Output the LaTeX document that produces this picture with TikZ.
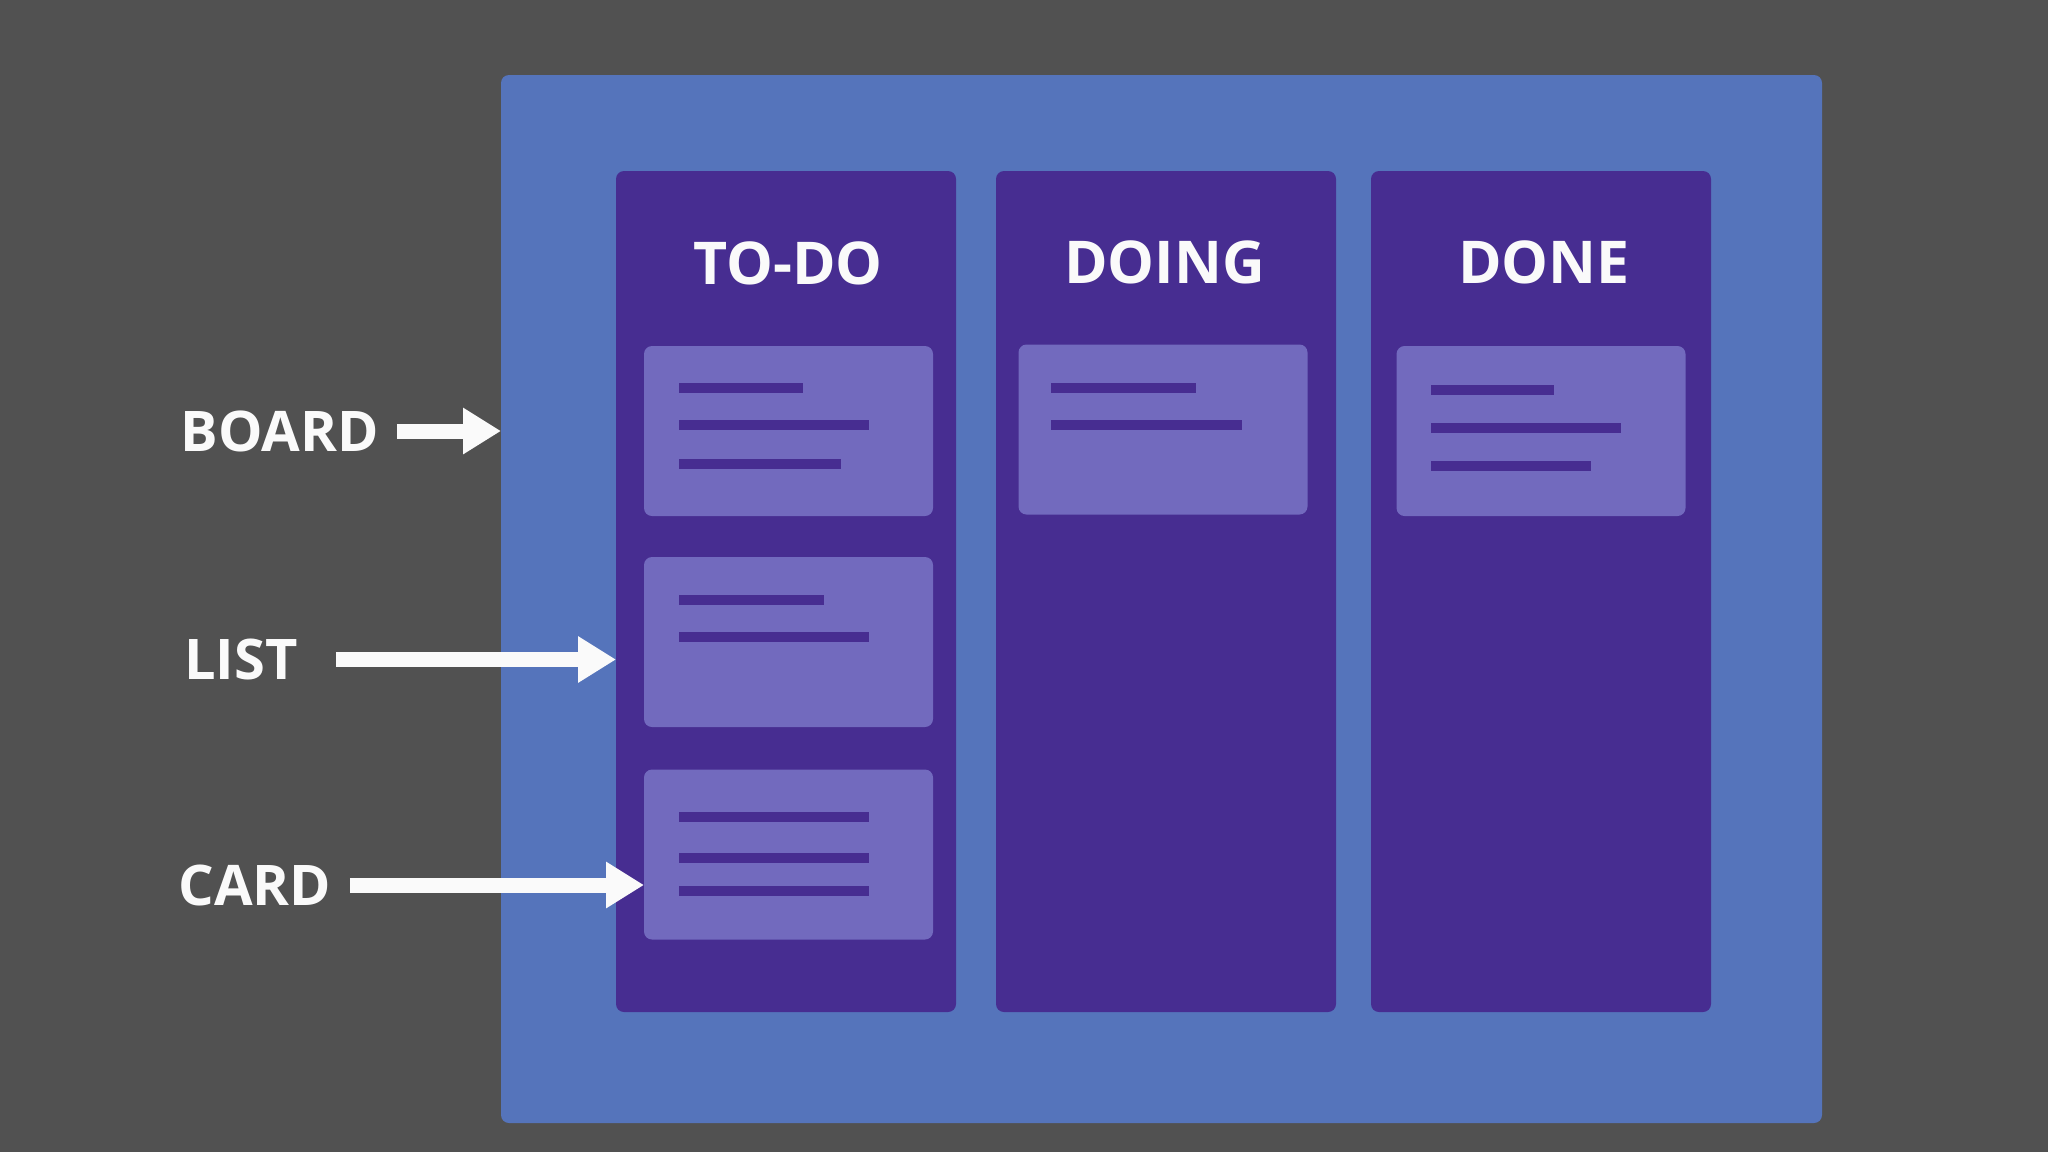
\documentclass[tikz,border=0pt]{standalone}
\usepackage{fontspec}
\setmainfont{Open Sans}
\usetikzlibrary{arrows.meta}
\definecolor{bgray}{RGB}{81,81,81}
\definecolor{boardblue}{RGB}{85,116,187}
\definecolor{listpurple}{RGB}{71,45,145}
\definecolor{cardpurple}{RGB}{114,106,190}
\definecolor{txtwhite}{RGB}{250,250,250}
\tikzset{
  boardbox/.style={fill=boardblue, rounded corners=4pt, inner sep=0pt, outer sep=0pt, minimum width=660.5pt, minimum height=524pt},
  listbox/.style={fill=listpurple, rounded corners=4pt, inner sep=0pt, outer sep=0pt, minimum width=170pt, minimum height=420.5pt},
  cardbox/.style={fill=cardpurple, rounded corners=4pt, inner sep=0pt, outer sep=0pt, minimum width=144.5pt, minimum height=85pt},
  cardline/.style={draw=listpurple, line width=5pt, line cap=butt},
  title/.style={text=txtwhite, inner sep=0pt, font=\fontsize{29.5}{32}\selectfont\bfseries},
  lbl/.style={text=txtwhite, inner sep=0pt, font=\fontsize{28}{30}\selectfont\bfseries},
  arr/.style={draw=txtwhite, line width=7.5pt, -{Triangle[length=19pt,width=22pt]}}
}
\begin{document}
\begin{tikzpicture}[x=0.5pt,y=-0.5pt]
\useasboundingbox[fill=bgray] (0,0) rectangle (2048,1152);
% board
\node[boardbox] (board) at (1161.5,599) {};
% lists
\node[listbox] (todo) at (786,591.5) {};
\node[listbox] (doing) at (1166,591.5) {};
\node[listbox] (done) at (1541,591.5) {};
% titles
\node[title] (ttodo) at (788,263.5) {TO-DO};
\node[title] (tdoing) at (1164.5,262) {DOING};
\node[title] (tdone) at (1544,262) {DONE};
% cards
\node[cardbox] (card1) at (788.5,431) {};
\node[cardbox] (card2) at (788.5,642) {};
\node[cardbox] (card3) at (788.5,854.5) {};
\node[cardbox] (card4) at (1163,429.5) {};
\node[cardbox] (card5) at (1541,431) {};
% card lines
\draw[cardline] (679,388) -- (803,388);
\draw[cardline] (679,425) -- (869,425);
\draw[cardline] (679,463.5) -- (841,463.5);
\draw[cardline] (679,600) -- (824,600);
\draw[cardline] (679,637) -- (869,637);
\draw[cardline] (679,817) -- (869,817);
\draw[cardline] (679,858) -- (869,858);
\draw[cardline] (679,891) -- (869,891);
\draw[cardline] (1051,388) -- (1196,388);
\draw[cardline] (1051,425) -- (1242,425);
\draw[cardline] (1431,390) -- (1554,390);
\draw[cardline] (1431,428) -- (1621,428);
\draw[cardline] (1431,466) -- (1591,466);
% labels
\node[lbl] (lboard) at (279.5,431) {BOARD};
\node[lbl] (llist) at (240.75,659.5) {LIST};
\node[lbl] (lcard) at (255,885) {CARD};
% arrows
\draw[arr] ([xshift=9pt]lboard.east) -- (lboard -| board.west);
\draw[arr] ([xshift=19pt]llist.east) -- (llist -| todo.west);
\draw[arr] ([xshift=9pt]lcard.east) -- (lcard -| card3.west);
\end{tikzpicture}
\end{document}
